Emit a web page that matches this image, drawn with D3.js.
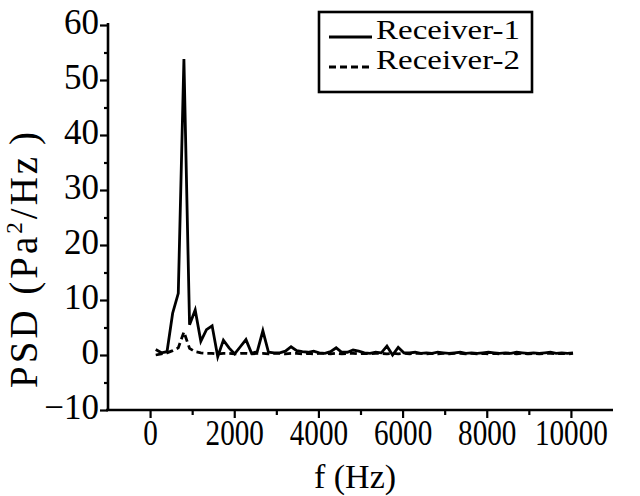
<!DOCTYPE html>
<html>
<head>
<meta charset="utf-8">
<script src="https://cdn.jsdelivr.net/npm/d3@7/dist/d3.min.js"></script>
<style>
  html, body { margin: 0; padding: 0; background: #fff; }
  svg { display: block; }
  text { font-family: "Liberation Serif", "Times New Roman", serif; fill: #000; }
</style>
</head>
<body>
<svg id="chart" width="640" height="496"></svg>
<script>
// ---- data ----
const freqs = [134,268,402,536,670,804,938,1072,1206,1340,1474,1608,1742,1876,2010,2144,2278,2412,2546,2680,
  2814,2948,3082,3216,3350,3484,3618,3752,3886,4020,4154,4288,4422,4556,4690,4824,4958,5092,5226,5360,
  5494,5628,5762,5896,6030,6164,6298,6432,6566,6700,6834,6968,7102,7236,7370,7504,7638,7772,7906,8040,
  8174,8308,8442,8576,8710,8844,8978,9112,9246,9380,9514,9648,9782,9916,10050];
const receiver1 = [1.0,0.4,0.6,7.6,11.2,53.8,5.5,8.2,2.5,4.6,5.3,-0.3,2.7,1.3,0.2,1.5,2.8,0.3,0.6,4.4,
  0.5,0.4,0.4,0.7,1.5,0.8,0.6,0.5,0.7,0.4,0.3,0.6,1.3,0.5,0.5,0.9,0.7,0.4,0.3,0.5,
  0.4,1.6,0.0,1.4,0.4,0.4,0.5,0.3,0.4,0.3,0.5,0.4,0.3,0.4,0.5,0.3,0.4,0.3,0.4,0.5,
  0.4,0.3,0.4,0.3,0.5,0.4,0.3,0.4,0.3,0.4,0.5,0.3,0.4,0.3,0.4];
const receiver2 = [0.0,0.2,0.4,0.8,1.3,4.2,1.2,0.6,0.4,0.3,0.3,0.2,0.3,0.3,0.2,0.3,0.3,0.2,0.3,0.3,
  0.2,0.3,0.3,0.2,0.3,0.3,0.2,0.3,0.2,0.3,0.3,0.2,0.3,0.2,0.3,0.3,0.2,0.3,0.2,0.3,
  0.3,0.2,0.3,0.2,0.3,0.2,0.3,0.3,0.2,0.3,0.2,0.3,0.2,0.3,0.3,0.2,0.3,0.2,0.3,0.2,
  0.3,0.2,0.3,0.3,0.2,0.3,0.2,0.3,0.2,0.3,0.3,0.2,0.3,0.2,0.3];
const xTicks = [0, 2000, 4000, 6000, 8000, 10000];
const xMinor = [1000, 3000, 5000, 7000, 9000];
const yTicks = [-10, 0, 10, 20, 30, 40, 50, 60];
const yMinor = [-5, 5, 15, 25, 35, 45, 55];
const seriesNames = ["Receiver-1", "Receiver-2"];

// ---- layout ----
const svg = d3.select("#chart");
const mLeft = 108, mRight = 613, mTop = 25, mBottom = 410;
const x = d3.scaleLinear().domain([-1000, 11000]).range([mLeft, mRight]);
const y = d3.scaleLinear().domain([-10, 60]).range([mBottom, mTop]);

const font = '"Liberation Serif", "Times New Roman", serif';

// x axis
const gx = svg.append("g").attr("transform", `translate(0,${mBottom})`);
gx.call(d3.axisBottom(x).tickValues(xMinor).tickSize(5).tickFormat(""));
gx.call(g => g.select(".domain").remove());
const gx2 = svg.append("g").attr("transform", `translate(0,${mBottom})`);
gx2.call(d3.axisBottom(x).tickValues(xTicks).tickSize(8).tickSizeOuter(0).tickFormat(d3.format("d")));
gx2.select(".domain").attr("stroke-width", 2.6).attr("d", `M${mLeft-2},0H${mRight}`);
gx2.selectAll(".tick text")
  .attr("y", 35).attr("dy", 0)
  .style("font-family", font).style("font-size", "35px")
  .attr("textLength", d => String(d).length * 14.6)
  .attr("lengthAdjust", "spacingAndGlyphs");

// y axis
const gy = svg.append("g").attr("transform", `translate(${mLeft},0)`);
gy.call(d3.axisLeft(y).tickValues(yMinor).tickSize(4).tickFormat(""));
gy.call(g => g.select(".domain").remove());
const gy2 = svg.append("g").attr("transform", `translate(${mLeft},0)`);
gy2.call(d3.axisLeft(y).tickValues(yTicks).tickSize(8).tickSizeOuter(0).tickFormat(d3.format("d")));
gy2.select(".domain").attr("stroke-width", 2.6).attr("d", `M0,${mTop-2}V${mBottom+1}`);
gy2.selectAll(".tick text")
  .attr("x", -9).attr("dy", 8)
  .style("font-family", font).style("font-size", "35px");
svg.selectAll("g .tick line").attr("stroke-width", 2.2).attr("stroke", "#000");

// axis titles
svg.append("text")
  .attr("x", 355).attr("y", 488)
  .attr("text-anchor", "middle")
  .style("font-size", "34px")
  .text("f (Hz)");

const yt = svg.append("text")
  .attr("transform", "translate(37,388) rotate(-90)")
  .attr("text-anchor", "start")
  .style("font-size", "39px")
  .style("letter-spacing", "3px");
yt.append("tspan").text("PSD (Pa");
yt.append("tspan").attr("dy", -15).style("font-size", "23px").text("2");
yt.append("tspan").attr("dy", 15).text("/Hz");
yt.append("tspan").attr("dx", 9).text(")");

// lines
const line = d3.line().x((d, i) => x(freqs[i])).y(d => y(d));
svg.append("path").datum(receiver1)
  .attr("fill", "none").attr("stroke", "#000").attr("stroke-width", 2.8)
  .attr("stroke-linejoin", "miter").attr("d", line);
svg.append("path").datum(receiver2)
  .attr("fill", "none").attr("stroke", "#000").attr("stroke-width", 2.8)
  .attr("stroke-dasharray", "7,4").attr("d", line);

// legend
const lg = svg.append("g");
lg.append("rect").attr("x", 319).attr("y", 12).attr("width", 213).attr("height", 80)
  .attr("fill", "#fff").attr("stroke", "#000").attr("stroke-width", 2.6);
const rows = [{y: 37, dash: null}, {y: 67, dash: "7,4"}];
rows.forEach((r, i) => {
  lg.append("line").attr("x1", 329).attr("x2", 372).attr("y1", r.y).attr("y2", r.y)
    .attr("stroke", "#000").attr("stroke-width", 2.8)
    .attr("stroke-dasharray", r.dash);
  lg.append("text").attr("x", 376).attr("y", r.y + 2)
    .style("font-size", "28px")
    .attr("textLength", 144).attr("lengthAdjust", "spacingAndGlyphs")
    .text(seriesNames[i]);
});
</script>
</body>
</html>
